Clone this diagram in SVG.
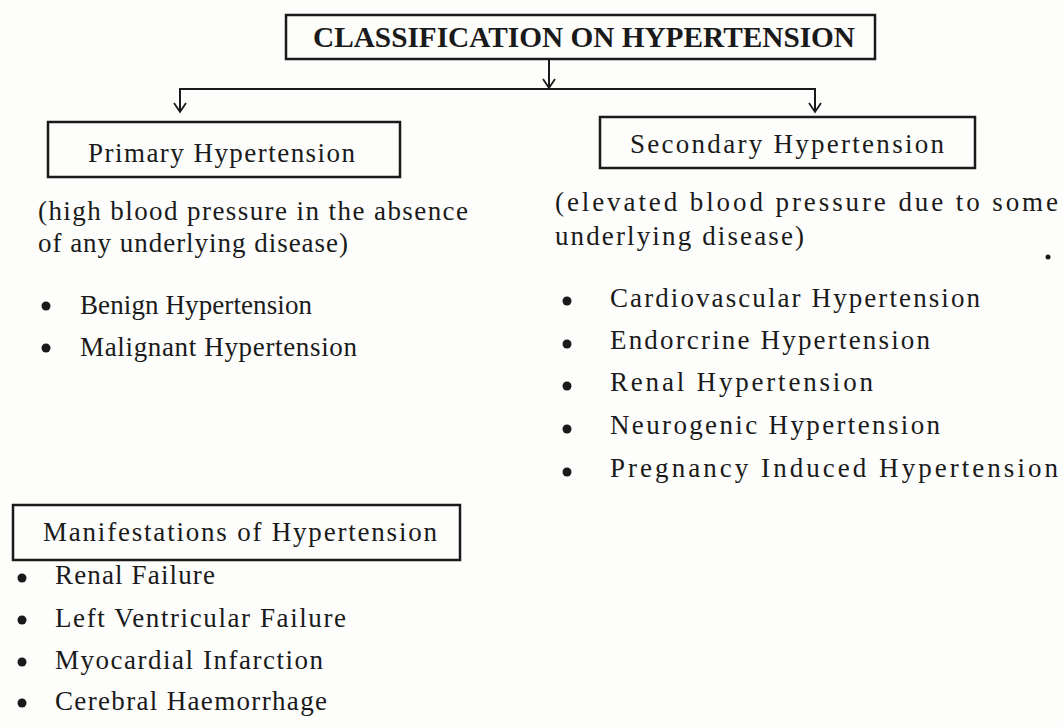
<svg xmlns="http://www.w3.org/2000/svg" width="1063" height="727" viewBox="0 0 1063 727">
<style>
text{font-family:"Liberation Serif","Times New Roman",serif;fill:#1a1a1a;font-size:27px}
.t{font-weight:bold;font-size:29px}
.box{fill:none;stroke:#1a1a1a;stroke-width:2.5}
.con{fill:none;stroke:#1a1a1a;stroke-width:2}
.ah{fill:none;stroke:#1a1a1a;stroke-width:1.8}
.dot{fill:#1a1a1a}
</style>
<rect width="1063" height="727" fill="#fdfdfb"/>
<g id="connectors">
<path class="con" d="M549,59 V88"/>
<path class="ah" d="M543,79 L549,88 L555,79"/>
<path class="con" d="M180,112 V89 H815 V112"/>
<path class="ah" d="M174,103 L180,112 L186,103"/>
<path class="ah" d="M809,103 L815,112 L821,103"/>
</g>
<g id="title">
<rect class="box" x="286" y="15" width="589" height="44"/>
<text class="t" x="313" y="47" textLength="542" lengthAdjust="spacingAndGlyphs">CLASSIFICATION ON HYPERTENSION</text>
</g>
<g id="primary">
<rect class="box" x="48" y="122" width="352" height="55"/>
<text x="88" y="162" textLength="267" lengthAdjust="spacing">Primary Hypertension</text>
<text x="38" y="220" textLength="430" lengthAdjust="spacing">(high blood pressure in the absence</text>
<text x="38" y="252" textLength="310" lengthAdjust="spacing">of any underlying disease)</text>
<circle class="dot" cx="46" cy="306" r="4.5"/>
<text x="80" y="314" textLength="232" lengthAdjust="spacing">Benign Hypertension</text>
<circle class="dot" cx="46" cy="348" r="4.5"/>
<text x="80" y="356" textLength="277" lengthAdjust="spacing">Malignant Hypertension</text>
</g>
<g id="secondary">
<rect class="box" x="600" y="117" width="375" height="51"/>
<text x="630" y="153" textLength="314" lengthAdjust="spacing">Secondary Hypertension</text>
<text x="555" y="211" textLength="503" lengthAdjust="spacing">(elevated blood pressure due to some</text>
<text x="555" y="245" textLength="249" lengthAdjust="spacing">underlying disease)</text>
<circle class="dot" cx="1048" cy="257" r="2.5"/>
<circle class="dot" cx="567" cy="301" r="4.5"/>
<text x="610" y="307" textLength="370" lengthAdjust="spacing">Cardiovascular Hypertension</text>
<circle class="dot" cx="567" cy="344" r="4.5"/>
<text x="610" y="349" textLength="320" lengthAdjust="spacing">Endorcrine Hypertension</text>
<circle class="dot" cx="567" cy="386" r="4.5"/>
<text x="610" y="391" textLength="263" lengthAdjust="spacing">Renal  Hypertension</text>
<circle class="dot" cx="567" cy="429" r="4.5"/>
<text x="610" y="434" textLength="330" lengthAdjust="spacing">Neurogenic Hypertension</text>
<circle class="dot" cx="567" cy="472" r="4.5"/>
<text x="610" y="477" textLength="448" lengthAdjust="spacing">Pregnancy Induced  Hypertension</text>
</g>
<g id="manifestations">
<rect class="box" x="13" y="505" width="447" height="55"/>
<text x="43" y="541" textLength="394" lengthAdjust="spacing">Manifestations of Hypertension</text>
<circle class="dot" cx="22" cy="578" r="4.5"/>
<text x="55" y="584" textLength="160" lengthAdjust="spacing">Renal Failure</text>
<circle class="dot" cx="22" cy="620" r="4.5"/>
<text x="55" y="627" textLength="291" lengthAdjust="spacing">Left Ventricular Failure</text>
<circle class="dot" cx="22" cy="662" r="4.5"/>
<text x="55" y="669" textLength="268" lengthAdjust="spacing">Myocardial Infarction</text>
<circle class="dot" cx="22" cy="703" r="4.5"/>
<text x="55" y="710" textLength="272" lengthAdjust="spacing">Cerebral Haemorrhage</text>
</g>
</svg>
